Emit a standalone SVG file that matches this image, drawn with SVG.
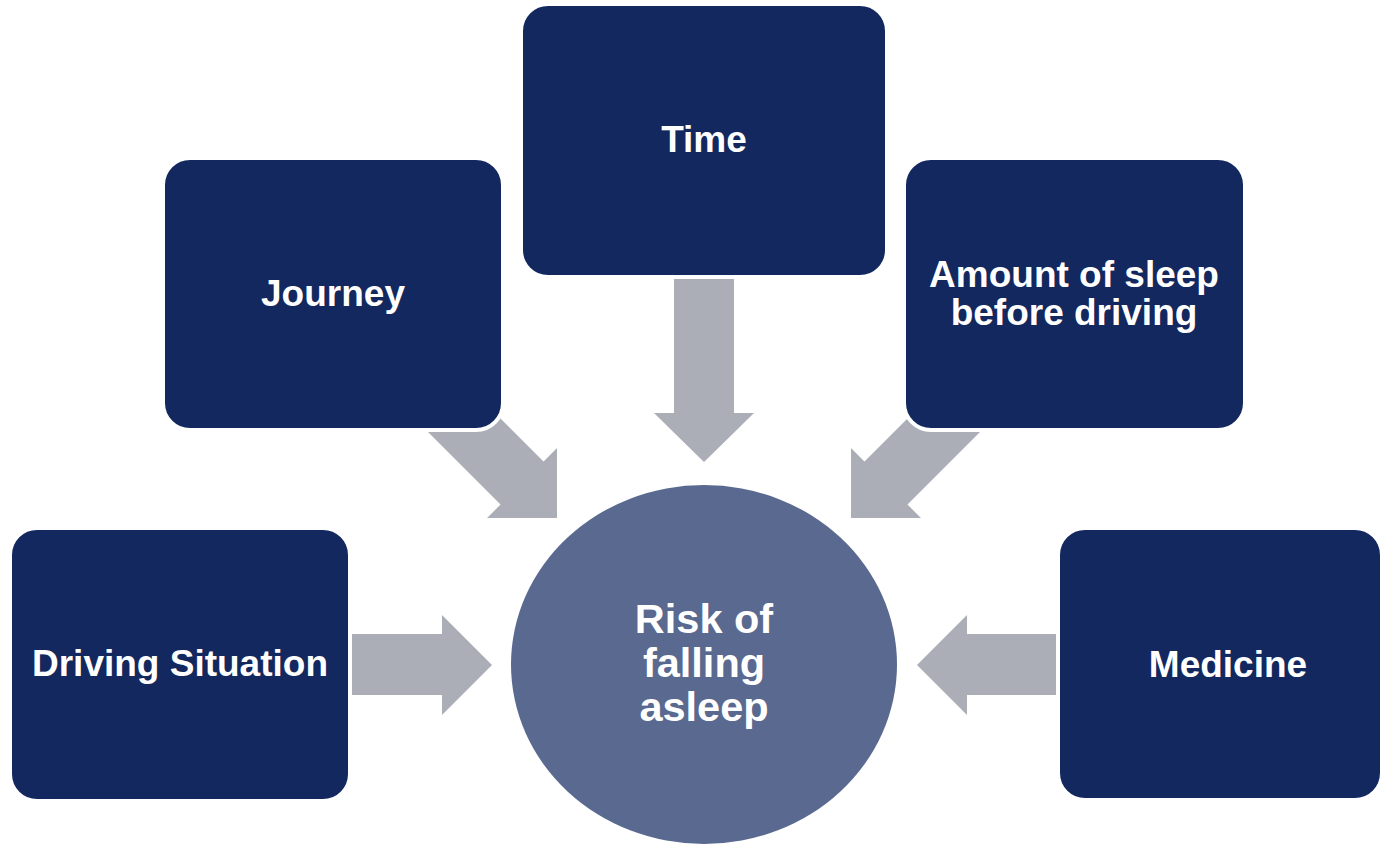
<svg xmlns="http://www.w3.org/2000/svg" width="1381" height="844" viewBox="0 0 1381 844">
  <style>
    .box { fill: #13285e; stroke: #ffffff; stroke-width: 4; }
    .hub { fill: #59698f; }
    .arrow { fill: #abaeb7; }
    .label { fill: #ffffff; font-family: "Liberation Sans", Arial, sans-serif; font-weight: bold; font-size: 37px; text-anchor: middle; }
    .hublabel { fill: #ffffff; font-family: "Liberation Sans", Arial, sans-serif; font-weight: bold; font-size: 41.5px; text-anchor: middle; }
  </style>
  <rect width="1381" height="844" fill="#ffffff"/>
  <g id="connectors">
    <polygon class="arrow" points="674,265 734,265 734,413 754,413 704,462 654,413 674,413"/>
    <polygon class="arrow" points="470.5,388.5 427.5,431.5 500.5,504.5 487,518 557,518 557,448 543.5,461.5"/>
    <polygon class="arrow" points="937.5,388.5 980.5,431.5 907.5,504.5 921,518 851,518 851,448 864.5,461.5"/>
    <polygon class="arrow" points="345,634 442,634 442,615 492,665 442,715 442,695 345,695"/>
    <polygon class="arrow" points="1062,634 967,634 967,615 917,665 967,715 967,695 1062,695"/>
  </g>
  <g id="node-risk">
    <ellipse class="hub" cx="704" cy="664.5" rx="193" ry="179.5"/>
    <text class="hublabel" x="704" y="633">Risk of</text>
    <text class="hublabel" x="704" y="677">falling</text>
    <text class="hublabel" x="704" y="721">asleep</text>
  </g>
  <g id="node-time">
    <rect class="box" x="521" y="4" width="366" height="273" rx="27"/>
    <text class="label" x="704" y="152">Time</text>
  </g>
  <g id="node-journey">
    <rect class="box" x="163" y="158" width="340" height="272" rx="27"/>
    <text class="label" x="333" y="306">Journey</text>
  </g>
  <g id="node-sleep">
    <rect class="box" x="904" y="158" width="341" height="272" rx="27"/>
    <text class="label" x="1074" y="287">Amount of sleep</text>
    <text class="label" x="1074" y="325">before driving</text>
  </g>
  <g id="node-driving">
    <rect class="box" x="10" y="528" width="340" height="273" rx="27"/>
    <text class="label" x="180" y="676">Driving Situation</text>
  </g>
  <g id="node-medicine">
    <rect class="box" x="1058" y="528" width="324" height="272" rx="27"/>
    <text class="label" x="1228" y="677">Medicine</text>
  </g>
</svg>
